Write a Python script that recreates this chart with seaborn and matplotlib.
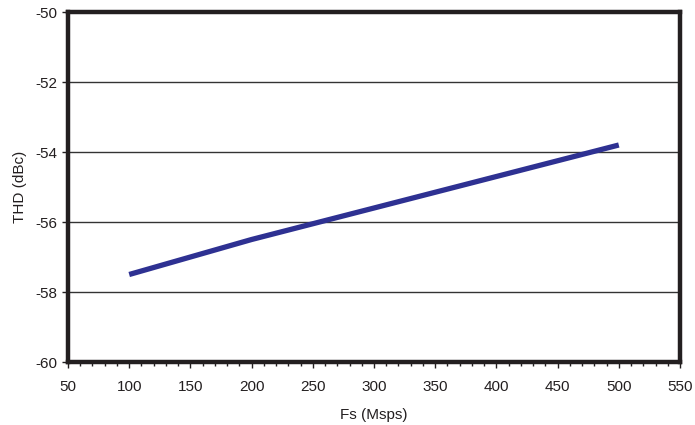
import matplotlib
matplotlib.use("Agg")
import matplotlib.pyplot as plt
import seaborn as sns
import pandas as pd
from matplotlib.ticker import MultipleLocator

fs_msps = [100, 200, 300, 400, 500]
thd_dbc = [-57.5, -56.5, -55.6, -54.7, -53.8]

sns.set_theme(style="white")
plt.rcParams['font.family'] = ['Liberation Sans', 'DejaVu Sans']
plt.rcParams['axes.unicode_minus'] = False

df = pd.DataFrame({"Fs (Msps)": fs_msps, "THD (dBc)": thd_dbc})

fig = plt.figure(figsize=(6.95, 4.25), dpi=100)
ax = fig.add_axes([68/695, 1-362/425, (680-68)/695, (362-12)/425])

for yv in [-52, -54, -56, -58]:
    ax.axhline(yv, color="#333333", lw=1.0, zorder=1)

sns.lineplot(data=df, x="Fs (Msps)", y="THD (dBc)", ax=ax, color="#2e3192",
             lw=3.8, zorder=3, solid_capstyle="butt")

ax.set_xlim(50, 550)
ax.set_ylim(-60, -50)
ax.xaxis.set_major_locator(MultipleLocator(50))
ax.xaxis.set_minor_locator(MultipleLocator(10))
ax.yaxis.set_major_locator(MultipleLocator(2))
ax.tick_params(axis='both', which='major', direction='out', length=4, width=1,
               color="#231f20", labelsize=11, labelcolor="#231f20", pad=4)
ax.tick_params(axis='x', which='major', pad=9, bottom=True)
ax.tick_params(axis='x', which='minor', direction='out', length=3, width=1,
               color="#231f20", bottom=True)
ax.tick_params(axis='y', which='major', left=True)
for s in ax.spines.values():
    s.set_linewidth(3.2)
    s.set_color("#231f20")
    s.set_zorder(4)
ax.set_xlabel("Fs (Msps)", fontsize=11, color="#231f20", labelpad=10)
ax.set_ylabel("THD (dBc)", fontsize=11, color="#231f20", labelpad=6)
ax.grid(False)

fig.savefig("out.png", dpi=100)
